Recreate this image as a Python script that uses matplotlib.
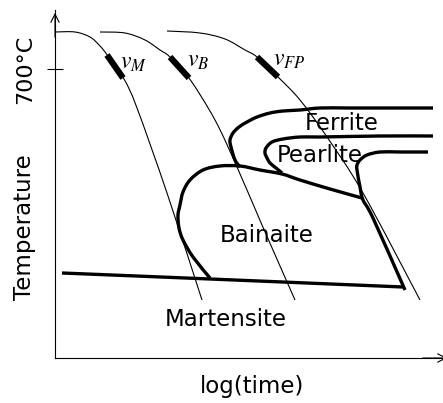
import matplotlib
matplotlib.use("Agg")
import matplotlib.pyplot as plt
from matplotlib.path import Path
from matplotlib.patches import PathPatch
import numpy as np

plt.rcParams["mathtext.fontset"] = "stix"

# schematic CCT diagram, coordinates in image units (x: log time, y: depth below top)
# cooling curves
cool_M_x = [55, 75, 90, 100, 108, 124, 137, 167, 202]
cool_M_y = [32, 32, 37, 46, 56, 79, 108, 193, 300]
cool_B_x = [100, 125, 145, 160, 170, 189, 215, 237, 262, 295]
cool_B_y = [32, 33, 40, 50, 57, 78, 120, 167, 225, 300]
cool_FP_x = [167, 200, 225, 245, 257, 278, 300, 327, 363, 420]
cool_FP_y = [31, 33, 39, 50, 57, 77, 100, 137, 193, 300]

# thick marks on the cooling curves (critical rates)
rate_x = [(107, 123), (170, 189), (257, 278)]
rate_y = [(55, 78), (57, 78), (57, 77)]
rate_labels = [r"$v_M$", r"$v_B$", r"$v_{FP}$"]
rate_lab_x = [120, 187, 273]
rate_lab_y = [69, 67, 66]

# transformation boundaries
ferrite_x = [433, 400, 350, 320, 300, 283, 270, 257, 247, 239, 233, 230, 231, 235, 240]
ferrite_y = [108, 108, 108, 108, 110, 111, 113, 117, 122, 127, 133, 140, 147, 160, 167]
pearlite_x = [433, 380, 320, 300, 283, 272, 266, 265, 267, 270, 276, 282]
pearlite_y = [136, 136, 137, 137, 139, 142, 148, 153, 158, 163, 168, 173]
bainite_x = [210, 193, 183, 179, 178, 180, 183, 190, 203, 220, 240, 260, 282, 300, 330, 362]
bainite_y = [278, 257, 240, 228, 215, 205, 192, 180, 170, 166, 166, 170, 174, 180, 189, 198]
finish_x = [428, 400, 380, 367, 360, 357, 357, 360, 363, 373, 405]
finish_y = [152, 152, 152, 155, 160, 165, 170, 187, 200, 218, 290]
ms_x = [62, 210, 403]
ms_y = [273, 279, 287]

phase_names = ["Ferrite", "Pearlite", "Bainaite", "Martensite"]
phase_x = [305, 277, 220, 165]
phase_y = [130, 162, 242, 326]


def smooth_path(xs, ys):
    # Catmull-Rom through the points, drawn as cubic Bezier pieces
    p = np.column_stack([xs, ys]).astype(float)
    ext = np.vstack([p[0], p, p[-1]])
    verts = [p[0]]
    codes = [Path.MOVETO]
    for i in range(1, len(ext) - 2):
        p0, p1, p2, p3 = ext[i - 1], ext[i], ext[i + 1], ext[i + 2]
        verts += [p1 + (p2 - p0) / 6, p2 - (p3 - p1) / 6, p2]
        codes += [Path.CURVE4] * 3
    return Path(verts, codes)


def draw_curve(ax, xs, ys, lw):
    ax.add_patch(PathPatch(smooth_path(xs, ys), fill=False, ec="black", lw=lw,
                           joinstyle="round", capstyle="butt", clip_on=False))


W, H = 443, 403
fig = plt.figure(figsize=(W / 100, H / 100), dpi=100)
ax = fig.add_axes([55 / W, 1 - 358 / H, (W - 55) / W, (358 - 10) / H])
ax.set_xlim(55, W)
ax.set_ylim(358, 10)
ax.patch.set_alpha(0)

for s in ["top", "right"]:
    ax.spines[s].set_visible(False)
for s in ["left", "bottom"]:
    ax.spines[s].set_linewidth(0.8)

ax.set_xticks([])
ax.set_yticks([69], ["700°C"], rotation=90, va="center", fontsize=16)
ax.tick_params(axis="y", direction="inout", length=11, width=0.8, pad=9)

# axis arrows
ax.annotate("", xy=(55, 10), xytext=(55, 40), annotation_clip=False,
            arrowprops=dict(arrowstyle="->, head_length=0.6, head_width=0.3", lw=0.8))
ax.annotate("", xy=(450, 358), xytext=(420, 358), annotation_clip=False,
            arrowprops=dict(arrowstyle="->, head_length=0.6, head_width=0.3", lw=0.8))

for cx, cy in [(cool_M_x, cool_M_y), (cool_B_x, cool_B_y), (cool_FP_x, cool_FP_y)]:
    draw_curve(ax, cx, cy, 0.8)

for rx, ry, lab, lx, ly in zip(rate_x, rate_y, rate_labels, rate_lab_x, rate_lab_y):
    ax.plot(rx, ry, color="black", lw=4.5, solid_capstyle="butt")
    ax.text(lx, ly, lab, fontsize=17, ha="left", va="baseline")

for bx, by in [(ferrite_x, ferrite_y), (pearlite_x, pearlite_y), (bainite_x, bainite_y),
               (finish_x, finish_y), (ms_x, ms_y)]:
    draw_curve(ax, bx, by, 2.4)

for name, px, py in zip(phase_names, phase_x, phase_y):
    ax.text(px, py, name, fontsize=16.5, ha="left", va="baseline")

ax.text(252, 393, "log(time)", fontsize=16.5, ha="center", va="baseline", clip_on=False)
ax.text(25, 227, "Temperature", fontsize=16.5, rotation=90, ha="center", va="center",
        clip_on=False)

fig.savefig("out.png", dpi=100)
